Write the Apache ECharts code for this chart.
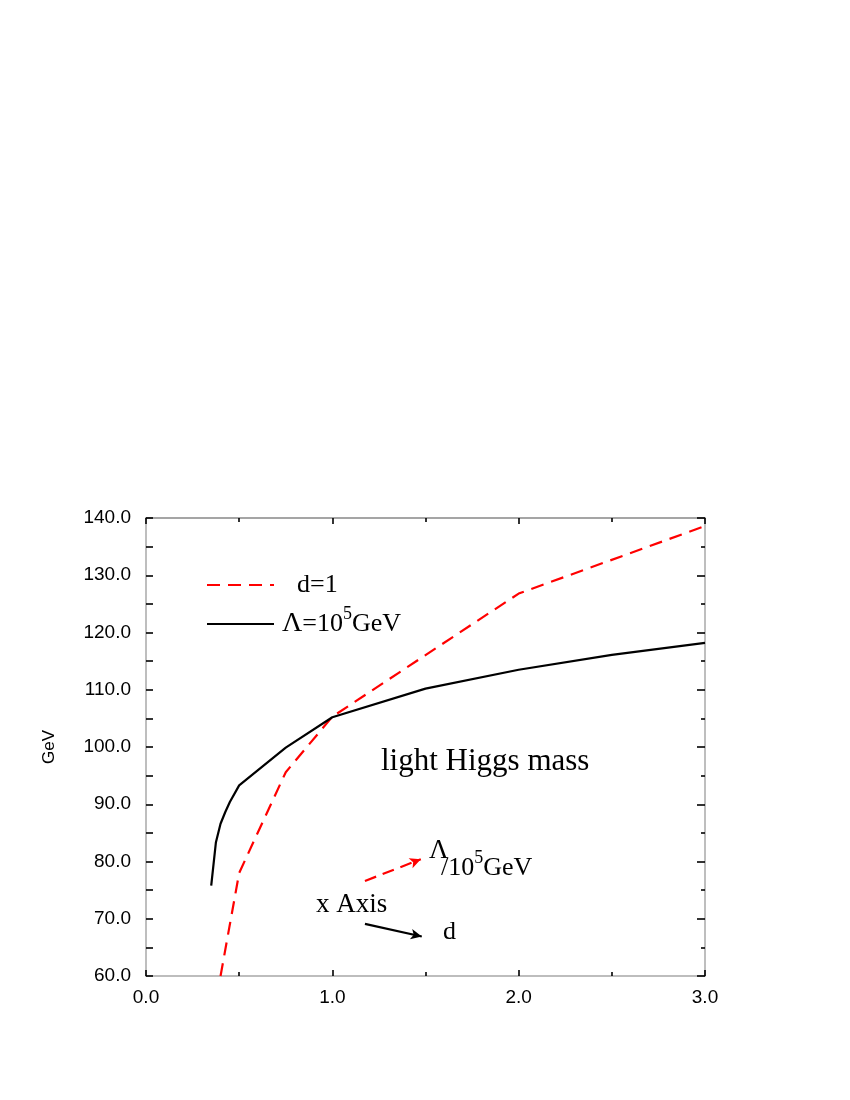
<!DOCTYPE html>
<html>
<head>
<meta charset="utf-8">
<script src="https://cdn.jsdelivr.net/npm/echarts@6/dist/echarts.min.js"></script>
<style>
html,body{margin:0;padding:0;background:#fff;}
#chart{width:850px;height:1100px;}
</style>
</head>
<body>
<div id="chart"></div>
<script>
// Data
const redX = [0.4, 0.5, 0.75, 1.0, 2.0, 3.0];
const redY = [60.0, 78.0, 95.6, 105.3, 126.8, 138.6];
const blackX = [0.35, 0.375, 0.4, 0.425, 0.45, 0.5, 0.75, 1.0, 1.5, 2.0, 2.5, 3.0];
const blackY = [75.8, 83.3, 86.6, 88.6, 90.4, 93.3, 99.9, 105.2, 110.2, 113.5, 116.1, 118.2];
const xTicks = [0.0, 1.0, 2.0, 3.0];
const yTicks = [60.0, 70.0, 80.0, 90.0, 100.0, 110.0, 120.0, 130.0, 140.0];
const redName = 'd=1';
const blackName = 'Λ=10^5GeV';

const redData = redX.map((x, i) => [x, redY[i]]);
const blackData = blackX.map((x, i) => [x, blackY[i]]);

const SERIF = '"Liberation Serif", "Times New Roman", serif';
const SANS = '"Liberation Sans", Arial, sans-serif';

const chart = echarts.init(document.getElementById('chart'));

const tickStyle = {color: '#000', width: 1.6};
const axisLineStyle = {color: '#a8a8a8', width: 1.5};

const option = {
  animation: false,
  backgroundColor: '#fff',
  grid: {left: 146, top: 518, width: 559, height: 458, containLabel: false},
  legend: [
    {
      data: [redName], orient: 'vertical', left: 206, top: 572, padding: 0,
      itemWidth: 67, itemHeight: 14,
      itemStyle: {opacity: 0, borderWidth: 0},
      textStyle: {fontFamily: SERIF, fontSize: 26, color: '#000',
        rich: {p: {width: 18}, t: {fontFamily: SERIF, fontSize: 26}}},
      formatter: () => '{p|}{t|d=1}'
    },
    {
      data: [blackName], orient: 'vertical', left: 206, top: 605, padding: 0,
      itemWidth: 67, itemHeight: 14,
      itemStyle: {opacity: 0, borderWidth: 0},
      textStyle: {fontFamily: SERIF, fontSize: 26, color: '#000',
        rich: {p: {width: 3}, L: {fontFamily: SERIF, fontSize: 28},
               t: {fontFamily: SERIF, fontSize: 26},
               s: {fontFamily: SERIF, fontSize: 18, padding: [0, 0, 20, 0]}}},
      formatter: () => '{p|}{L|Λ}{t|=10}{s|5}{t|GeV}'
    }
  ],
  xAxis: [
    {
      type: 'value', min: 0, max: 3, interval: 1, position: 'bottom',
      axisLine: {show: true, onZero: false, lineStyle: axisLineStyle},
      axisTick: {show: true, inside: true, length: 6, lineStyle: tickStyle},
      minorTick: {show: true, splitNumber: 2, length: 4, lineStyle: tickStyle},
      axisLabel: {fontFamily: SANS, fontSize: 19, color: '#000', margin: 12,
        formatter: v => xTicks.includes(v) ? v.toFixed(1) : ''},
      splitLine: {show: false}
    },
    {
      type: 'value', min: 0, max: 3, interval: 1, position: 'top',
      axisLine: {show: true, onZero: false, lineStyle: {color: '#888', width: 1.5}},
      axisTick: {show: true, inside: true, length: 6, lineStyle: tickStyle},
      minorTick: {show: true, splitNumber: 2, length: 4, lineStyle: tickStyle},
      axisLabel: {show: false},
      splitLine: {show: false}
    }
  ],
  yAxis: [
    {
      type: 'value', min: 60, max: 140, interval: 5, position: 'left',
      name: 'GeV', nameLocation: 'middle', nameGap: 88, nameRotate: 90,
      nameTextStyle: {fontFamily: SANS, fontSize: 17, color: '#000'},
      axisLine: {show: true, onZero: false, lineStyle: axisLineStyle},
      axisTick: {show: true, inside: true, length: 7, lineStyle: tickStyle},
      axisLabel: {fontFamily: SANS, fontSize: 19, color: '#000', margin: 15,
        formatter: v => yTicks.includes(v) ? v.toFixed(1) : ''},
      splitLine: {show: false}
    },
    {
      type: 'value', min: 60, max: 140, interval: 10, position: 'right',
      axisLine: {show: true, onZero: false, lineStyle: axisLineStyle},
      axisTick: {show: true, inside: true, length: 8, lineStyle: tickStyle},
      minorTick: {show: true, splitNumber: 2, length: 4, lineStyle: tickStyle},
      axisLabel: {show: false},
      splitLine: {show: false}
    }
  ],
  series: [
    {
      name: redName, type: 'line', data: redData, xAxisIndex: 0, yAxisIndex: 0,
      symbol: 'none', clip: true, silent: true,
      lineStyle: {color: '#ff0000', width: 2.2, type: [13, 8]},
      itemStyle: {color: '#ff0000'},
      markLine: {
        silent: true, symbol: ['none', 'arrow'], symbolSize: [8, 11],
        label: {show: false},
        lineStyle: {color: '#ff0000', width: 2.2, type: [12, 7]},
        emphasis: {disabled: true},
        data: [[{coord: [1.175, 76.6]}, {coord: [1.475, 80.4]}]]
      }
    },
    {
      name: blackName, type: 'line', data: blackData, xAxisIndex: 0, yAxisIndex: 0,
      symbol: 'none', clip: true, silent: true,
      lineStyle: {color: '#000', width: 2.2, type: 'solid'},
      itemStyle: {color: '#000'},
      markLine: {
        silent: true, symbol: ['none', 'arrow'], symbolSize: [8, 11],
        label: {show: false},
        lineStyle: {color: '#000', width: 2.2, type: 'solid'},
        emphasis: {disabled: true},
        data: [[{coord: [1.175, 69.1]}, {coord: [1.48, 66.9]}]]
      }
    }
  ],
  graphic: [
    {type: 'text', left: 381, top: 746, silent: true,
      style: {text: 'light Higgs mass', font: '31px ' + SERIF, fill: '#000'}},
    {type: 'text', left: 316, top: 891, silent: true,
      style: {text: 'x Axis', font: '27px ' + SERIF, fill: '#000'}},
    {type: 'text', left: 443, top: 919, silent: true,
      style: {text: 'd', font: '26px ' + SERIF, fill: '#000'}},
    {type: 'text', left: 429, top: 837, silent: true,
      style: {text: 'Λ', font: '27px ' + SERIF, fill: '#000'}},
    {type: 'text', left: 441, top: 849, silent: true,
      style: {text: '/10{s|5}GeV', font: '26px ' + SERIF, fill: '#000',
        rich: {s: {fontFamily: SERIF, fontSize: 18, padding: [0, 0, 20, 0]}}}}
  ]
};

chart.setOption(option);
</script>
</body>
</html>
